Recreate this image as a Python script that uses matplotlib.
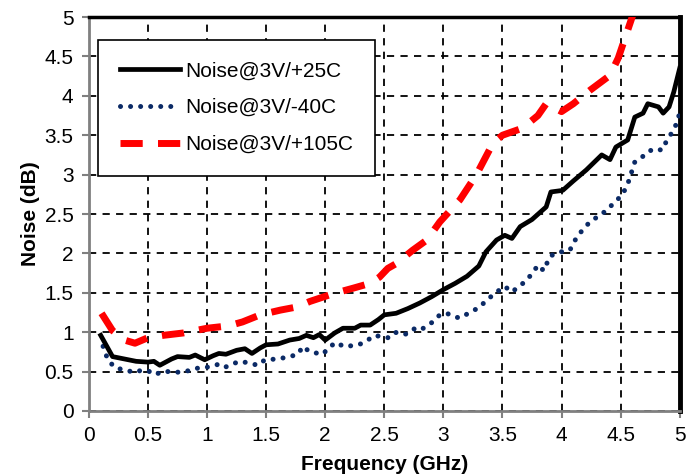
import numpy as np
import matplotlib.pyplot as plt

plt.rcParams['font.family'] = ['Liberation Sans', 'DejaVu Sans']

# Noise@3V/+25C
f_25 = [0.1, 0.2, 0.3, 0.4, 0.5, 0.55, 0.6, 0.7, 0.75, 0.85, 0.9, 0.98, 1.05, 1.1, 1.16,
        1.25, 1.32, 1.38, 1.45, 1.5, 1.6, 1.7, 1.78, 1.84, 1.9, 1.95, 2.0, 2.08, 2.15,
        2.25, 2.3, 2.38, 2.45, 2.5, 2.6, 2.7, 2.8, 2.9, 3.0, 3.1, 3.2, 3.3, 3.36, 3.45,
        3.52, 3.58, 3.65, 3.75, 3.87, 3.91, 4.01, 4.1, 4.21, 4.34, 4.41, 4.46, 4.56,
        4.62, 4.69, 4.73, 4.82, 4.86, 4.91, 4.95, 5.0]
n_25 = [0.96, 0.69, 0.66, 0.63, 0.62, 0.63, 0.58, 0.66, 0.69, 0.68, 0.71, 0.65, 0.70, 0.73, 0.72,
        0.77, 0.79, 0.73, 0.80, 0.84, 0.85, 0.90, 0.92, 0.96, 0.93, 0.97, 0.90, 0.99, 1.05,
        1.05, 1.09, 1.09, 1.16, 1.22, 1.24, 1.30, 1.37, 1.45, 1.54, 1.62, 1.71, 1.84, 2.02, 2.17,
        2.23, 2.19, 2.34, 2.43, 2.59, 2.78, 2.80, 2.92, 3.06, 3.25, 3.19, 3.35, 3.44,
        3.73, 3.78, 3.90, 3.86, 3.78, 3.86, 4.05, 4.35]

# Noise@3V/-40C
f_m40 = [0.12, 0.16, 0.22, 0.3, 0.39, 0.45, 0.5, 0.56, 0.62, 0.7, 0.77, 0.84, 0.9, 0.98,
         1.05, 1.11, 1.16, 1.22, 1.28, 1.35, 1.43, 1.49, 1.6, 1.7, 1.77, 1.81, 1.87, 1.98,
         2.04, 2.1, 2.15, 2.25, 2.32, 2.42, 2.48, 2.53, 2.59, 2.65, 2.7, 2.76, 2.81, 2.91,
         2.97, 3.03, 3.08, 3.14, 3.2, 3.31, 3.36, 3.46, 3.52, 3.58, 3.69, 3.75, 3.8, 3.85,
         3.9, 3.96, 4.07, 4.13, 4.18, 4.24, 4.35, 4.46, 4.52, 4.56, 4.59, 4.62, 4.68, 4.73,
         4.79, 4.85, 4.89, 4.95, 4.99, 5.0]
n_m40 = [0.82, 0.65, 0.55, 0.52, 0.49, 0.52, 0.51, 0.46, 0.50, 0.50, 0.49, 0.51, 0.54, 0.55,
         0.57, 0.60, 0.56, 0.60, 0.63, 0.61, 0.58, 0.65, 0.66, 0.69, 0.72, 0.82, 0.75, 0.72,
         0.82, 0.87, 0.82, 0.83, 0.86, 0.96, 0.94, 0.93, 1.00, 0.97, 0.98, 1.05, 1.03, 1.13,
         1.22, 1.24, 1.20, 1.18, 1.23, 1.32, 1.40, 1.52, 1.58, 1.51, 1.64, 1.74, 1.85, 1.78,
         1.96, 2.01, 2.04, 2.21, 2.30, 2.40, 2.51, 2.66, 2.76, 2.88, 3.02, 3.16, 3.22, 3.29,
         3.33, 3.31, 3.43, 3.57, 3.71, 3.85]

# Noise@3V/+105C
f_105 = [0.107, 0.2, 0.3, 0.39, 0.5, 0.63, 0.8, 1.0, 1.18, 1.3, 1.45, 1.62, 1.76, 1.87,
         2.07, 2.24, 2.38, 2.46, 2.53, 2.6, 2.74, 2.86, 2.97, 3.14, 3.28, 3.42, 3.5, 3.67,
         3.8, 3.87, 4.0, 4.1, 4.24, 4.41, 4.48, 4.55, 4.62]
n_105 = [1.24, 1.02, 0.90, 0.86, 0.93, 0.96, 0.99, 1.05, 1.08, 1.13, 1.22, 1.28, 1.32, 1.39,
         1.49, 1.56, 1.62, 1.70, 1.81, 1.87, 2.04, 2.17, 2.40, 2.68, 3.00, 3.40, 3.50, 3.59,
         3.75, 3.90, 3.80, 3.90, 4.07, 4.26, 4.48, 4.79, 5.10]

ticks = np.arange(0, 5.01, 0.5)
tick_text = ['0', '0.5', '1', '1.5', '2', '2.5', '3', '3.5', '4', '4.5', '5']

fig = plt.figure(figsize=(7, 4.74), dpi=100)
ax = fig.add_axes([0.127, 0.133, 0.844, 0.831])

ax.plot(f_25, n_25, color='black', lw=3.4, label='Noise@3V/+25C', zorder=4)
ax.plot(f_m40, n_m40, color='#0b2a66', lw=3.6, linestyle=(0, (0.01, 2.0)),
        dash_capstyle='round', label='Noise@3V/-40C', zorder=3)
ax.plot(f_105, n_105, color='#ff0000', lw=5, linestyle=(0, (3.2, 2.2)),
        label='Noise@3V/+105C', zorder=5)

ax.set_xlim(0, 5)
ax.set_ylim(0, 5)
ax.set_xticks(ticks)
ax.set_xticklabels(tick_text)
ax.set_yticks(ticks)
ax.set_yticklabels(tick_text)
ax.tick_params(labelsize=15, direction='out', length=5, width=1.5, color='#808080', pad=6)
ax.grid(True, color='black', linestyle=(0, (4, 3.5)), lw=1.3)

for s in ['left', 'bottom']:
    ax.spines[s].set_color('#808080')
    ax.spines[s].set_linewidth(2)
ax.spines['top'].set_linewidth(2.5)
ax.spines['right'].set_linewidth(3.5)

ax.set_xlabel('Frequency (GHz)', fontsize=15, fontweight='bold', labelpad=7)
ax.set_ylabel('Noise (dB)', fontsize=15, fontweight='bold', labelpad=3)

leg = ax.legend(loc='upper left', bbox_to_anchor=(0.015, 0.943), fontsize=15, fancybox=False,
                edgecolor='black', framealpha=1, handlelength=2.9, handletextpad=0.25,
                labelspacing=0.85, borderpad=1.05, borderaxespad=0)
leg.get_frame().set_linewidth(1.2)

fig.savefig('out.png', dpi=100)
